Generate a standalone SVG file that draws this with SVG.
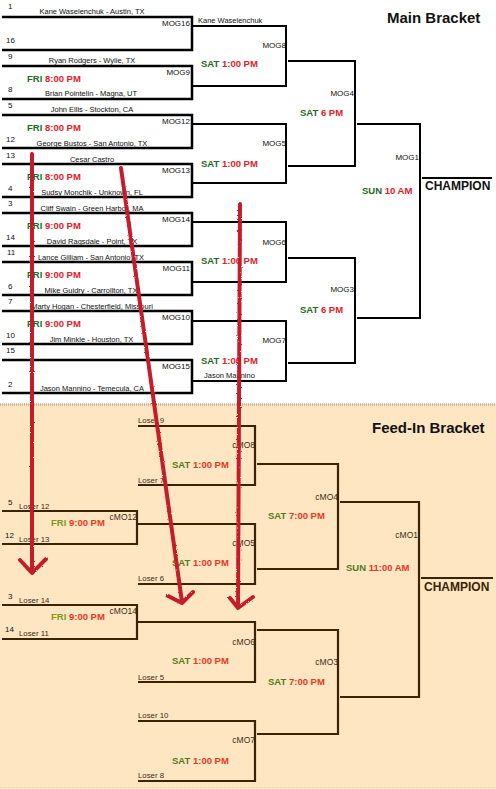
<svg xmlns="http://www.w3.org/2000/svg" width="496" height="789" viewBox="0 0 496 789">
<style>
.ln{stroke:#000;stroke-width:2.5;fill:none}
.ln2{stroke:#000;stroke-width:2;fill:none}
.fl{stroke:#3b2306;stroke-width:2.2;fill:none}
text{font-family:"Liberation Sans",Arial,sans-serif}
.nm{font-size:7.5px;fill:#111;text-anchor:middle}
.nl{font-size:7.5px;fill:#111}
.sd{font-size:8px;fill:#111}
.mg{font-size:8px;fill:#111;text-anchor:end}
.cm{font-size:8.5px;fill:#3b2a14;text-anchor:end}
.fn{font-size:7.8px;fill:#3b2a14}
.t{font-size:9.5px;font-weight:bold}
.g{fill:#1f6b1f}.r{fill:#e2202a}
.fg{fill:#557a1a}.fy{fill:#7c9a12}.fr{fill:#e8381e}
.h{font-size:15px;font-weight:bold;fill:#111}
.ch{font-size:12px;font-weight:bold;fill:#111}
.fch{font-size:12px;font-weight:bold;fill:#3b2306}
.ar{stroke:#c41c2c;stroke-width:4;fill:none;stroke-linecap:round;stroke-linejoin:round;filter:url(#rough)}
</style>
<defs>
<filter id="rough" x="-20%" y="-5%" width="140%" height="110%">
<feTurbulence type="fractalNoise" baseFrequency="0.8" numOctaves="1" seed="3" result="n"/>
<feDisplacementMap in="SourceGraphic" in2="n" scale="2.5"/>
</filter>
</defs>
<rect x="0" y="0" width="496" height="789" fill="#fff"/>
<rect id="feed-bg" x="0" y="404" width="496" height="385" fill="#ffe6c3"/>
<line x1="0" y1="404.5" x2="496" y2="404.5" stroke="#c2ae94" stroke-width="2.5" stroke-dasharray="1 1"/>
<line x1="0" y1="787.5" x2="496" y2="787.5" stroke="#e6cfae" stroke-width="1" stroke-dasharray="1 1"/>

<text class="h" x="387" y="23">Main Bracket</text>
<text class="h" x="372" y="433">Feed-In Bracket</text>

<!-- Main bracket round 1 -->
<g id="MOG16">
<path class="ln" d="M2 17H192V50H2"/>
<text class="sd" x="8" y="9">1</text>
<text class="nm" x="92" y="14">Kane Waselenchuk - Austin, TX</text>
<text class="mg" x="190" y="26">MOG16</text>
<text class="sd" x="6" y="43">16</text>
</g>
<g id="MOG9">
<path class="ln" d="M2 66H192V99H2"/>
<text class="sd" x="8" y="59">9</text>
<text class="nm" x="92" y="63">Ryan Rodgers - Wylie, TX</text>
<text class="mg" x="190" y="75">MOG9</text>
<text class="t" x="27" y="82"><tspan class="g">FRI</tspan> <tspan class="r">8:00 PM</tspan></text>
<text class="sd" x="8" y="92">8</text>
<text class="nm" x="91" y="96">Brian Pointelin - Magna, UT</text>
</g>
<g id="MOG12">
<path class="ln" d="M2 115H192V148H2"/>
<text class="sd" x="8" y="108">5</text>
<text class="nm" x="92" y="112">John Ellis - Stockton, CA</text>
<text class="mg" x="190" y="124">MOG12</text>
<text class="t" x="27" y="131"><tspan class="g">FRI</tspan> <tspan class="r">8:00 PM</tspan></text>
<text class="sd" x="6" y="142">12</text>
<text class="nm" x="92" y="145.5">George Bustos - San Antonio, TX</text>
</g>
<g id="MOG13">
<path class="ln" d="M2 164H192V197H2"/>
<text class="sd" x="6" y="158">13</text>
<text class="nm" x="92" y="161.5">Cesar Castro</text>
<text class="mg" x="190" y="173">MOG13</text>
<text class="t" x="27" y="179.5"><tspan class="g">FRI</tspan> <tspan class="r">8:00 PM</tspan></text>
<text class="sd" x="8" y="191">4</text>
<text class="nm" x="92" y="195">Sudsy Monchik - Unknown, FL</text>
</g>
<g id="MOG14">
<path class="ln" d="M2 213H192V246H2"/>
<text class="sd" x="8" y="206">3</text>
<text class="nm" x="92" y="210.5">Cliff Swain - Green Harbor, MA</text>
<text class="mg" x="190" y="222">MOG14</text>
<text class="t" x="27" y="228.5"><tspan class="g">FRI</tspan> <tspan class="r">9:00 PM</tspan></text>
<text class="sd" x="6" y="240">14</text>
<text class="nm" x="92" y="244">David Ragsdale - Point, TX</text>
</g>
<g id="MOG11">
<path class="ln" d="M2 262H192V295H2"/>
<text class="sd" x="7" y="255">11</text>
<text class="nm" x="91" y="259.5">Lance Gilliam - San Antonio, TX</text>
<text class="mg" x="190" y="271">MOG11</text>
<text class="t" x="27" y="277.5"><tspan class="g">FRI</tspan> <tspan class="r">9:00 PM</tspan></text>
<text class="sd" x="8" y="289">6</text>
<text class="nm" x="91" y="293">Mike Guidry - Carrollton, TX</text>
</g>
<g id="MOG10">
<path class="ln" d="M2 311H192V344H2"/>
<text class="sd" x="8" y="304">7</text>
<text class="nm" x="92" y="308.5">Marty Hogan - Chesterfield, Missouri</text>
<text class="mg" x="190" y="320">MOG10</text>
<text class="t" x="27" y="326.5"><tspan class="g">FRI</tspan> <tspan class="r">9:00 PM</tspan></text>
<text class="sd" x="6" y="338">10</text>
<text class="nm" x="91.5" y="342">Jim Minkle - Houston, TX</text>
</g>
<g id="MOG15">
<path class="ln" d="M2 360H192V393H2"/>
<text class="sd" x="6" y="353">15</text>
<text class="mg" x="190" y="369">MOG15</text>
<text class="sd" x="8" y="387">2</text>
<text class="nm" x="92" y="391">Jason Mannino - Temecula, CA</text>
</g>

<!-- Main bracket round 2 -->
<g id="MOG8">
<path class="ln2" d="M193 26H286V86H193"/>
<text class="nl" x="198" y="23">Kane Waselenchuk</text>
<text class="mg" x="286" y="48">MOG8</text>
<text class="t" x="201" y="67"><tspan class="g">SAT</tspan> <tspan class="r">1:00 PM</tspan></text>
</g>
<g id="MOG5">
<path class="ln2" d="M193 124H286V183H193"/>
<text class="mg" x="286" y="146">MOG5</text>
<text class="t" x="201" y="167"><tspan class="g">SAT</tspan> <tspan class="r">1:00 PM</tspan></text>
</g>
<g id="MOG6">
<path class="ln2" d="M193 222H286V282H193" stroke-width="1.5"/>
<text class="mg" x="286" y="244.5">MOG6</text>
<text class="t" x="201" y="264"><tspan class="g">SAT</tspan> <tspan class="r">1:00 PM</tspan></text>
</g>
<g id="MOG7">
<path class="ln2" d="M193 321H286V381H193"/>
<text class="mg" x="286" y="343">MOG7</text>
<text class="t" x="201" y="363.5"><tspan class="g">SAT</tspan> <tspan class="r">1:00 PM</tspan></text>
<text class="nl" x="204" y="378">Jason Mannino</text>
</g>

<!-- Main bracket round 3 -->
<g id="MOG4">
<path class="ln2" d="M288 61H355V166H288"/>
<text class="mg" x="354" y="96">MOG4</text>
<text class="t" x="300" y="116"><tspan class="g">SAT</tspan> <tspan class="r">6 PM</tspan></text>
</g>
<g id="MOG3">
<path class="ln2" d="M288 258H355V363H288"/>
<text class="mg" x="354" y="292">MOG3</text>
<text class="t" x="300" y="313"><tspan class="g">SAT</tspan> <tspan class="r">6 PM</tspan></text>
</g>

<!-- Main final -->
<g id="MOG1">
<path class="ln2" d="M357 124H420V318H357"/>
<text class="mg" x="419" y="159.5">MOG1</text>
<text class="t" x="362" y="193.5"><tspan class="g">SUN</tspan> <tspan class="r">10 AM</tspan></text>
</g>
<g id="champion-main">
<line class="ln2" x1="422" y1="178" x2="492" y2="178"/>
<text class="ch" x="425" y="190">CHAMPION</text>
</g>

<!-- Feed-in bracket -->
<g id="cMO12">
<path class="fl" d="M2 511H137V544H2"/>
<text class="sd" x="8" y="505" fill="#3b2a14">5</text>
<text class="fn" x="19" y="509">Loser 12</text>
<text class="cm" x="137" y="520">cMO12</text>
<text class="t" x="51" y="526"><tspan class="fy">FRI</tspan> <tspan class="fr">9:00 PM</tspan></text>
<text class="sd" x="5" y="538" fill="#3b2a14">12</text>
<text class="fn" x="19" y="542">Loser 13</text>
</g>
<g id="cMO14">
<path class="fl" d="M2 605H137V639H2"/>
<text class="sd" x="8" y="599" fill="#3b2a14">3</text>
<text class="fn" x="19" y="603">Loser 14</text>
<text class="cm" x="137" y="613.5">cMO14</text>
<text class="t" x="51" y="620"><tspan class="fy">FRI</tspan> <tspan class="fr">9:00 PM</tspan></text>
<text class="sd" x="5" y="632" fill="#3b2a14">14</text>
<text class="fn" x="19" y="636">Loser 11</text>
</g>
<g id="cMO8">
<path class="fl" d="M138 426H255V485H138"/>
<text class="fn" x="138" y="423">Loser 9</text>
<text class="cm" x="255" y="448">cMO8</text>
<text class="t" x="172" y="467.5"><tspan class="fg">SAT</tspan> <tspan class="fr">1:00 PM</tspan></text>
<text class="fn" x="138" y="483">Loser 7</text>
</g>
<g id="cMO5">
<path class="fl" d="M137 524H255V584H138" stroke-width="2.6"/>
<text class="cm" x="255" y="545.5">cMO5</text>
<text class="t" x="172" y="566"><tspan class="fg">SAT</tspan> <tspan class="fr">1:00 PM</tspan></text>
<text class="fn" x="138" y="581">Loser 6</text>
</g>
<g id="cMO6">
<path class="fl" d="M137 622H255V682H138"/>
<text class="cm" x="255" y="644.5">cMO6</text>
<text class="t" x="172" y="664"><tspan class="fg">SAT</tspan> <tspan class="fr">1:00 PM</tspan></text>
<text class="fn" x="138" y="680">Loser 5</text>
</g>
<g id="cMO7">
<path class="fl" d="M138 721H255V781H138" stroke-width="2.6"/>
<text class="fn" x="138" y="718">Loser 10</text>
<text class="cm" x="255" y="743">cMO7</text>
<text class="t" x="172" y="763.5"><tspan class="fg">SAT</tspan> <tspan class="fr">1:00 PM</tspan></text>
<text class="fn" x="138" y="777.5">Loser 8</text>
</g>
<g id="cMO4">
<path class="fl" d="M257 464H338V569H257"/>
<text class="cm" x="338" y="500">cMO4</text>
<text class="t" x="268" y="519"><tspan class="fg">SAT</tspan> <tspan class="fr">7:00 PM</tspan></text>
</g>
<g id="cMO3">
<path class="fl" d="M257 630H338V734H257"/>
<text class="cm" x="338" y="664.5">cMO3</text>
<text class="t" x="268" y="685"><tspan class="fg">SAT</tspan> <tspan class="fr">7:00 PM</tspan></text>
</g>
<g id="cMO1">
<path class="fl" d="M340 502H419V697H340"/>
<text class="cm" x="418" y="538">cMO1</text>
<text class="t" x="346" y="571"><tspan class="fg">SUN</tspan> <tspan class="fr">11:00 AM</tspan></text>
</g>
<g id="champion-feed">
<line class="fl" x1="421" y1="578" x2="493" y2="578" stroke-width="2.6"/>
<text class="fch" x="424" y="590.5">CHAMPION</text>
</g>

<!-- Hand-drawn red arrows -->
<g id="connectors">
<path class="ar" d="M32 154L32 571M20 560L32 573L46 559"/>
<path class="ar" d="M121 168L182 602M168 596L182 603L193 592"/>
<path class="ar" d="M240 204L238 607M230 598L238 608L253 597"/>
</g>
</svg>
